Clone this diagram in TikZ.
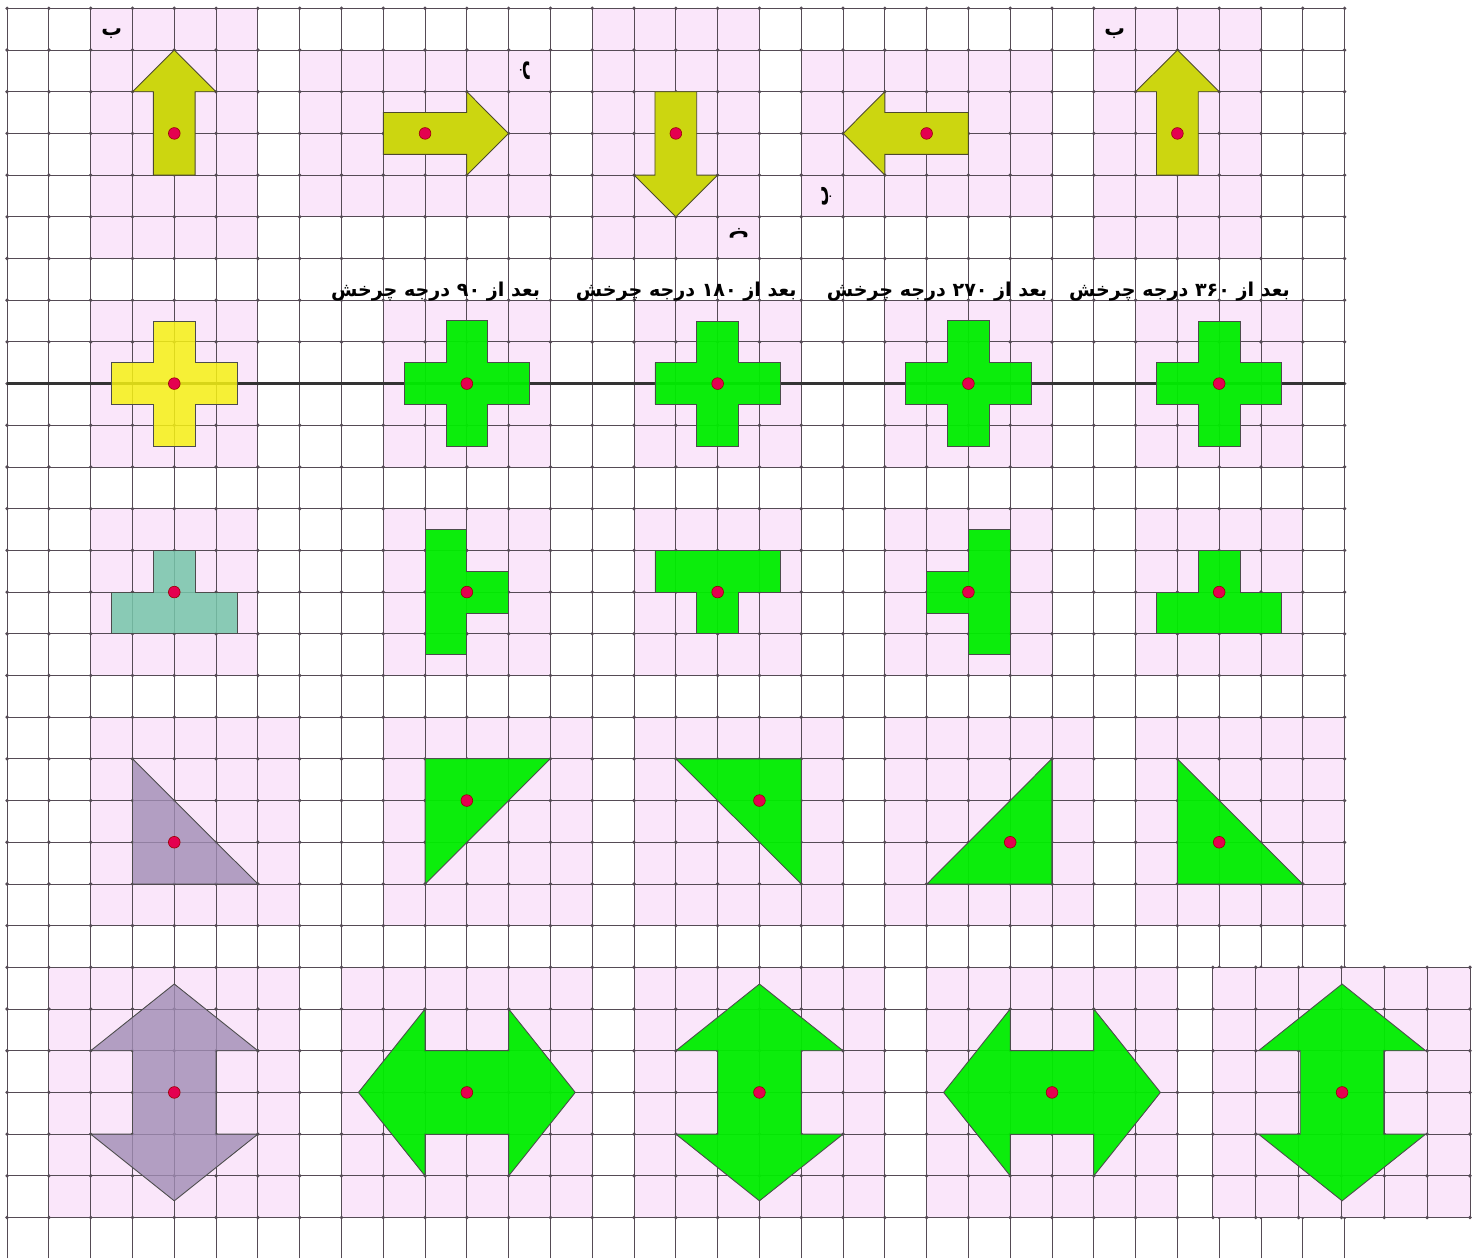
\documentclass[tikz,border=0pt]{standalone}
\usepackage{fontspec}
\newfontfamily\arabicfont[Script=Arabic]{DejaVu Sans}
\TeXXeTstate=1
\usepackage{tikz}
\definecolor{pinkbg}{RGB}{250,230,250}
\definecolor{gridgray}{RGB}{85,75,85}
\definecolor{arrowolive}{RGB}{204,214,16}
\definecolor{crossyellow}{RGB}{246,242,20}
\definecolor{tealish}{RGB}{118,198,170}
\definecolor{violetgray}{RGB}{160,140,180}
\definecolor{brightgreen}{RGB}{0,238,0}
\definecolor{dotred}{RGB}{228,0,80}

\begin{document}
\begin{tikzpicture}[x=1cm, y=0.9976cm,
    gridline/.style={draw=gridgray, line width=0.6pt},
    figure/.style={draw=black!70, line width=0.6pt},
    oliveshape/.style={figure, draw=black!60!olive, fill=arrowolive},
    yellowshape/.style={figure, fill=crossyellow, fill opacity=0.85},
    tealshape/.style={figure, fill=tealish, fill opacity=0.85},
    violetshape/.style={figure, fill=violetgray, fill opacity=0.8},
    greenshape/.style={figure, fill=brightgreen, fill opacity=0.95},
    pivotdot/.style={fill=dotred, draw=black!40!red, line width=0.4pt},
    header/.style={font=\arabicfont\bfseries\fontsize{13}{15}\selectfont},
    tag/.style={font=\arabicfont\bfseries\fontsize{14}{16}\selectfont}]
    \useasboundingbox (-0.17,-0.98) rectangle (35.24,29.2);

    % pink sheets behind the figures
    \foreach \xa/\ya/\xb/\yb in {2/23/6/29, 7/24/13/28, 14/23/18/29, 19/24/25/28, 26/23/30/29}
        \fill[pinkbg] (\xa,\ya) rectangle (\xb,\yb);
    \foreach \xa in {2,9,15,21,27} {
        \fill[pinkbg] (\xa,18) rectangle ++(4,4);
        \fill[pinkbg] (\xa,13) rectangle ++(4,4);
        \fill[pinkbg] (\xa,7) rectangle ++(5,5);
    }
    \foreach \xa in {1,8,15,22}
        \fill[pinkbg] (\xa,0) rectangle ++(6,6);

    % squared paper
    \foreach \i in {0,...,32}
        \draw[gridline] (\i,-0.98) -- (\i,29);
    \foreach \j in {0,...,29}
        \draw[gridline] (0,\j) -- (32,\j);
    \foreach \i in {0,...,32}
        \foreach \j in {0,...,29}
            \fill[gridgray] (\i,\j) circle (1.3pt);

    % pasted piece at the bottom right
    \fill[pinkbg] (28.85,0) rectangle (35,6);
    \foreach \k in {0,...,6} {
        \draw[gridline] ({28.85+1.025*\k},0) -- ++(0,6);
        \draw[gridline] (28.85,\k) -- (35,\k);
        \foreach \j in {0,...,6}
            \fill[gridgray] ({28.85+1.025*\k},\j) circle (1.3pt);
    }

    % arrow turned step by step, with its letter
    \foreach \x/\a/\n in {4/0/a, 10/-90/b, 16/-180/c, 22/-270/d, 28/-360/e} {
        \begin{scope}[shift={(\x,26)}, rotate=\a]
            \filldraw[oliveshape] (-0.5,-1) -- (0.5,-1) -- (0.5,1) -- (1,1) -- (0,2)
                -- (-1,1) -- (-0.5,1) -- cycle;
            \node[tag, transform shape] (tag\n) at (-1.5,2.4) {ب};
        \end{scope}
        \fill[pivotdot] (\x,26) circle (0.14);
    }

    % headings
    \node[header] (after90) at (10.25,22.2) {\beginR بعد از \beginL ۹۰\endL{} درجه چرخش\endR};
    \node[header] (after180) at (16.25,22.2) {\beginR بعد از \beginL ۱۸۰\endL{} درجه چرخش\endR};
    \node[header] (after270) at (22.25,22.2) {\beginR بعد از \beginL ۲۷۰\endL{} درجه چرخش\endR};
    \node[header] (after360) at (28.05,22.2) {\beginR بعد از \beginL ۳۶۰\endL{} درجه چرخش\endR};

    % crosses on the line
    \draw[black!80, line width=1.6pt] (0,20) -- (32,20);
    \foreach \x/\a/\s in {4/0/yellowshape, 11/-90/greenshape, 17/-180/greenshape,
                          23/-270/greenshape, 29/-360/greenshape} {
        \begin{scope}[shift={(\x,20)}, rotate=\a]
            \filldraw[\s] (-0.5,-1.5) -- (0.5,-1.5) -- (0.5,-0.5) -- (1.5,-0.5) -- (1.5,0.5)
                -- (0.5,0.5) -- (0.5,1.5) -- (-0.5,1.5) -- (-0.5,0.5) -- (-1.5,0.5)
                -- (-1.5,-0.5) -- (-0.5,-0.5) -- cycle;
        \end{scope}
        \fill[pivotdot] (\x,20) circle (0.14);
    }

    % T pieces
    \foreach \x/\a/\s in {4/0/tealshape, 11/-90/greenshape, 17/-180/greenshape,
                          23/-270/greenshape, 29/-360/greenshape} {
        \begin{scope}[shift={(\x,15)}, rotate=\a]
            \filldraw[\s] (-1.5,-1) -- (1.5,-1) -- (1.5,0) -- (0.5,0) -- (0.5,1)
                -- (-0.5,1) -- (-0.5,0) -- (-1.5,0) -- cycle;
        \end{scope}
        \fill[pivotdot] (\x,15) circle (0.14);
    }

    % right triangles
    \foreach \x/\y/\a/\s in {4/9/0/violetshape, 11/10/-90/greenshape, 18/10/-180/greenshape,
                             24/9/-270/greenshape, 29/9/-360/greenshape} {
        \begin{scope}[shift={(\x,\y)}, rotate=\a]
            \filldraw[\s] (-1,2) -- (-1,-1) -- (2,-1) -- cycle;
        \end{scope}
        \fill[pivotdot] (\x,\y) circle (0.14);
    }

    % double arrows
    \foreach \x/\a/\s in {4/0/violetshape, 11/-90/greenshape, 18/-180/greenshape,
                          25/-270/greenshape, 31.94/-360/greenshape} {
        \begin{scope}[shift={(\x,3)}, rotate=\a]
            \filldraw[\s] (0,2.6) -- (2,1) -- (1,1) -- (1,-1) -- (2,-1) -- (0,-2.6)
                -- (-2,-1) -- (-1,-1) -- (-1,1) -- (-2,1) -- cycle;
        \end{scope}
        \fill[pivotdot] (\x,3) circle (0.14);
    }
\end{tikzpicture}
\end{document}
